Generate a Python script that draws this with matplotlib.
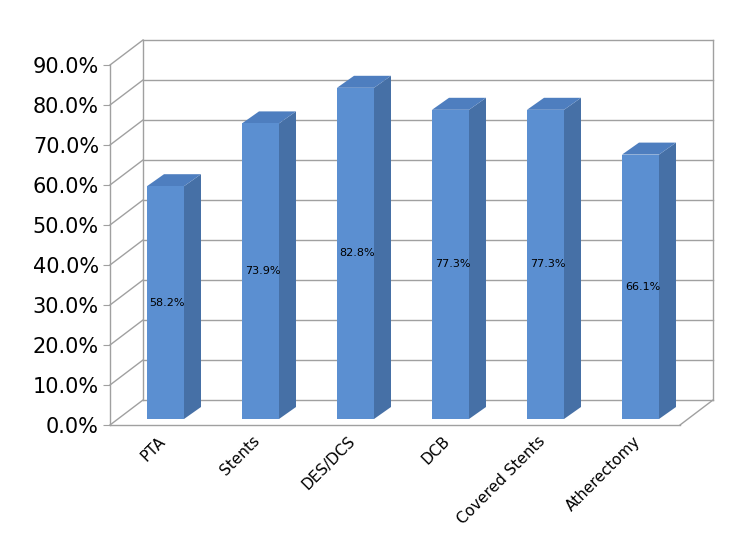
import matplotlib
matplotlib.use("Agg")
import matplotlib.pyplot as plt
from matplotlib.patches import Polygon

categories = ["PTA", "Stents", "DES/DCS", "DCB", "Covered Stents", "Atherectomy"]
values = [58.2, 73.9, 82.8, 77.3, 77.3, 66.1]
yticks = [0, 10, 20, 30, 40, 50, 60, 70, 80, 90]

fig = plt.figure(figsize=(7.46, 5.56), dpi=100)
ax = fig.add_axes([110/746, (556-425)/556, 570/746, 360/556])
ax.set_xlim(0, 6)
ax.set_ylim(0, 90)
for s in ax.spines.values():
    s.set_visible(False)

# wall depth (data units)
wdx, wdy = 33/95, 6.25
grid = "#a0a0a0"
kw = dict(color=grid, lw=1, clip_on=False, zorder=1)
for v in yticks:
    ax.plot([0, wdx], [v, v + wdy], **kw)
    ax.plot([wdx, 6 + wdx], [v + wdy, v + wdy], **kw)
ax.plot([0, 0], [0, 90], **kw)
ax.plot([wdx, wdx], [wdy, 90 + wdy], **kw)
ax.plot([6 + wdx, 6 + wdx], [wdy, 90 + wdy], **kw)
ax.plot([0, 6], [0, 0], **kw)
ax.plot([6, 6 + wdx], [0, wdy], **kw)

# bars
bw = 37/95
ox, oy = 8/95, 1.5
sdx, sdy = 17/95, 3.0
front, side, top = "#5B8FD1", "#4670A6", "#4E7EBF"
for i, v in enumerate(values):
    x0 = i + 0.5 - bw/2 + ox
    x1 = x0 + bw
    y0, y1 = oy, oy + v
    ax.add_patch(Polygon([(x1, y0), (x1 + sdx, y0 + sdy), (x1 + sdx, y1 + sdy), (x1, y1)],
                         closed=True, fc=side, ec="none", clip_on=False, zorder=3))
    ax.add_patch(Polygon([(x0, y1), (x1, y1), (x1 + sdx, y1 + sdy), (x0 + sdx, y1 + sdy)],
                         closed=True, fc=top, ec="none", clip_on=False, zorder=3))
    ax.add_patch(Polygon([(x0, y0), (x1, y0), (x1, y1), (x0, y1)],
                         closed=True, fc=front, ec="none", clip_on=False, zorder=4))
    ax.text((x0 + x1)/2 + 0.02, y0 + v/2, f"{v:.1f}%", ha="center", va="center",
            fontsize=8, zorder=5)

ax.set_yticks(yticks)
ax.set_yticklabels([f"{v:.1f}%" for v in yticks], fontsize=15)
ax.tick_params(axis="y", length=5, color=grid, pad=3)
ax.set_xticks([i + 0.5 for i in range(6)])
ax.set_xticklabels(categories, rotation=45, ha="right", rotation_mode="anchor", fontsize=11)
ax.tick_params(axis="x", length=0, pad=6)
fig.savefig("out.png", dpi=100)
